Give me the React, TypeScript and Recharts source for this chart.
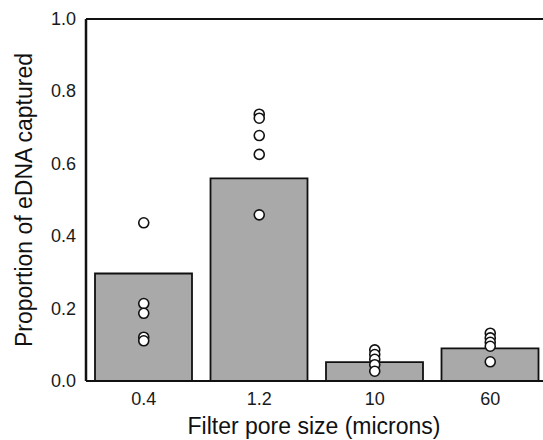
import { Bar, ComposedChart, Line, ReferenceLine, XAxis, YAxis } from "recharts";

const poreSizes = ["0.4", "1.2", "10", "60"];
const meanCaptured = [0.297, 0.56, 0.052, 0.09];
const rep1 = [0.437, 0.737, 0.086, 0.132];
const rep2 = [0.214, 0.726, 0.073, 0.119];
const rep3 = [0.187, 0.678, 0.06, 0.107];
const rep4 = [0.121, 0.626, 0.045, 0.096];
const rep5 = [0.111, 0.459, 0.027, 0.053];
const yTicks = [0, 0.2, 0.4, 0.6, 0.8, 1.0];

const data = poreSizes.map((size, i) => ({
  size,
  mean: meanCaptured[i],
  r1: rep1[i],
  r2: rep2[i],
  r3: rep3[i],
  r4: rep4[i],
  r5: rep5[i],
}));

const FONT = "Liberation Sans, Arial, sans-serif";

const dot = { r: 5, fill: "#ffffff", stroke: "#111111", strokeWidth: 1.6 };

// plain text tick so the font size is exactly what we ask for
function Tick(props: any) {
  const { x, y, payload, textAnchor, fmt, dy } = props;
  return (
    <text x={x} y={y} dy={dy} textAnchor={textAnchor} fill="#1a1a1a" fontSize={18} fontFamily={FONT}>
      {fmt ? fmt(payload.value) : payload.value}
    </text>
  );
}

export default function App() {
  return (
    <div style={{ position: "absolute", left: 0, top: 0, width: 543, height: 440, overflow: "hidden", background: "#fff" }}>
      <ComposedChart
        width={560}
        height={440}
        data={data}
        margin={{ top: 19, right: 12, left: 0, bottom: 0 }}
      >
        <XAxis
          dataKey="size"
          height={59}
          tick={<Tick dy={14} />}
          tickLine={false}
          tickMargin={4}
          axisLine={{ stroke: "#111", strokeWidth: 2 }}
          label={{
            value: "Filter pore size (microns)",
            position: "insideBottom",
            offset: 6,
            dx: -3,
            fill: "#111",
            fontFamily: FONT,
            fontSize: 23,
          }}
        />
        <YAxis
          width={86}
          domain={[0, 1]}
          ticks={yTicks}
          tick={<Tick dy={6} fmt={(v: number) => v.toFixed(1)} />}
          tickLine={false}
          tickMargin={4}
          axisLine={{ stroke: "#111", strokeWidth: 2.5 }}
          label={{
            value: "Proportion of eDNA captured",
            angle: -90,
            position: "insideLeft",
            offset: 24,
            fill: "#111",
            fontFamily: FONT,
            fontSize: 23,
            style: { textAnchor: "middle" },
          }}
        />
        <ReferenceLine y={1} stroke="#111" strokeWidth={2} ifOverflow="visible" />
        <Bar
          dataKey="mean"
          fill="#a9a9a9"
          stroke="#111"
          strokeWidth={1.8}
          barSize={97}
          isAnimationActive={false}
        />
        {["r1", "r2", "r3", "r4", "r5"].map((k) => (
          <Line
            key={k}
            dataKey={k}
            stroke="none"
            dot={dot}
            activeDot={false}
            legendType="none"
            isAnimationActive={false}
          />
        ))}
      </ComposedChart>
    </div>
  );
}
